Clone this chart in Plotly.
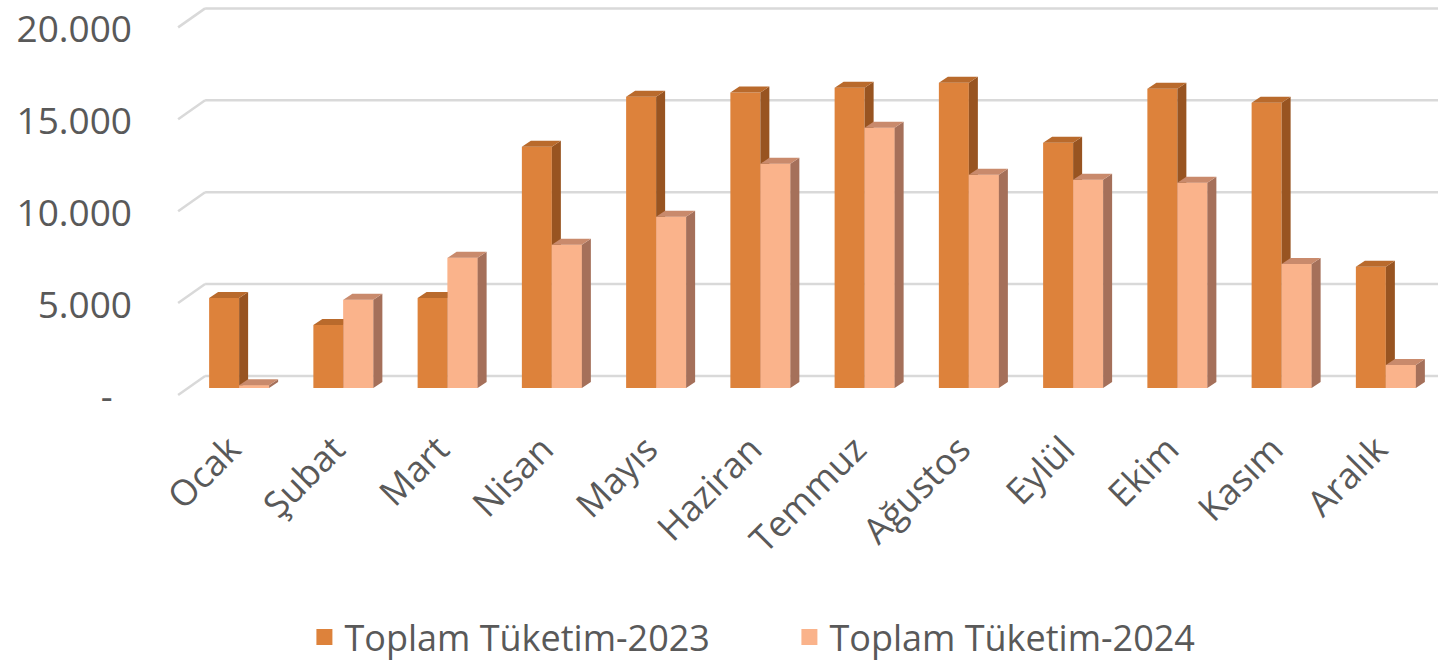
import plotly.graph_objects as go

months = ["Ocak", "Şubat", "Mart", "Nisan", "Mayıs", "Haziran", "Temmuz",
          "Ağustos", "Eylül", "Ekim", "Kasım", "Aralık"]
t2023 = [4900, 3430, 4900, 13130, 15850, 16070, 16340, 16610, 13340, 16280, 15520, 6590]
t2024 = [150, 4800, 7080, 7790, 9310, 12200, 14160, 11600, 11330, 11170, 6750, 1250]
name2023 = "Toplam Tüketim-2023"
name2024 = "Toplam Tüketim-2024"
ytick_vals = [0, 5000, 10000, 15000, 20000]
ytick_text = ["-\u00a0\u00a0", "5.000", "10.000", "15.000", "20.000"]

# style / geometry
W, H = 1438, 662
ML, MR, MT, MB = 170, 0, 2, 263
XR = [-0.663, 11.5]
YR = [-600, 21000]
px_x = (W - ML - MR) / (XR[1] - XR[0])
px_y = (H - MT - MB) / (YR[1] - YR[0])
BW = 30 / px_x          # bar front width
DX = 9 / px_x           # depth offset x
DY = 6 / px_y           # depth offset y
GB = 12 / px_y          # back gridline offset
GF = -7 / px_y          # front gridline offset
GX0 = (178 - 239) / px_x
GX1 = (205 - 239) / px_x

c23 = dict(front="#DD823B", side="#985421", top="#B96A2C")
c24 = dict(front="#FAB38B", side="#A5705A", top="#C98A6C")
xs = list(range(len(months)))


def polys(left_list, vals, kind):
    px, py = [], []
    for xl, v in zip(left_list, vals):
        xr = xl + BW
        if kind == "side":
            pts = [(xr, 0), (xr + DX, DY), (xr + DX, v + DY), (xr, v)]
        elif kind == "top":
            pts = [(xl, v), (xl + DX, v + DY), (xr + DX, v + DY), (xr, v)]
        else:
            pts = [(xl, 0), (xr, 0), (xr, v), (xl, v)]
        for a, b in pts + [pts[0]]:
            px.append(a)
            py.append(b)
        px.append(None)
        py.append(None)
    return px, py


fig = go.Figure()
fig.add_trace(go.Bar(x=xs, y=t2023, name=name2023, width=BW, offset=-BW,
                     legendgroup="a", showlegend=False,
                     marker=dict(color=c23["front"], line=dict(width=0))))
fig.add_trace(go.Bar(x=xs, y=t2024, name=name2024, width=BW, offset=0,
                     legendgroup="b", showlegend=False,
                     marker=dict(color=c24["front"], line=dict(width=0))))

left23 = [x - BW for x in xs]
left24 = list(xs)
for left, vals, col, faces, grp in [(left23, t2023, c23, ["side", "top"], "a"),
                                    (left24, t2024, c24, ["front", "side", "top"], "b")]:
    for f in faces:
        px, py = polys(left, vals, f)
        fig.add_trace(go.Scatter(x=px, y=py, mode="lines", fill="toself",
                                 fillcolor=col[f], line=dict(width=0, color=col[f]),
                                 legendgroup=grp, showlegend=False, hoverinfo="skip"))

# legend entries (square swatches)
for nm, col, grp in [(name2023, c23["front"], "a"), (name2024, c24["front"], "b")]:
    fig.add_trace(go.Scatter(x=[None], y=[None], mode="markers", name=nm,
                             legendgroup=grp,
                             marker=dict(symbol="square", size=22, color=col)))

shapes = []
for v in ytick_vals:
    shapes.append(dict(type="line", xref="x", yref="y", x0=GX1, x1=XR[1],
                       y0=v + GB, y1=v + GB, layer="below",
                       line=dict(color="#D9D9D9", width=2.5)))
    shapes.append(dict(type="line", xref="x", yref="y", x0=GX0, x1=GX1,
                       y0=v + GF, y1=v + GB, layer="below",
                       line=dict(color="#D9D9D9", width=2.5)))

fig.update_layout(
    width=W, height=H,
    margin=dict(l=ML, r=MR, t=MT, b=MB, autoexpand=False),
    paper_bgcolor="white", plot_bgcolor="white",
    barmode="overlay",
    shapes=shapes,
    font=dict(family="Open Sans", color="#595959"),
    xaxis=dict(range=XR, tickmode="array", tickvals=xs, ticktext=months,
               tickangle=-45, showgrid=False, zeroline=False, showline=False,
               ticks="", tickfont=dict(size=36, color="#595959"),
               ticklabelstandoff=21, ticklabelshift=-9, automargin=False,
               ticklabeloverflow="allow"),
    yaxis=dict(range=YR, tickmode="array", tickvals=ytick_vals, ticktext=ytick_text,
               showgrid=False, zeroline=False, showline=False, ticks="",
               tickfont=dict(size=37, color="#595959"),
               ticklabelstandoff=37, ticklabelshift=9, automargin=False,
               ticklabeloverflow="allow"),
    legend=dict(orientation="h", x=0.106, xanchor="left", y=-0.6, yanchor="middle",
                font=dict(size=36, color="#595959"),
                entrywidth=440, entrywidthmode="pixels"),
    showlegend=True,
)

fig.write_html("out.html", config={"displayModeBar": False},
               post_script="document.body.style.margin='0px';document.body.style.overflow='hidden';")
